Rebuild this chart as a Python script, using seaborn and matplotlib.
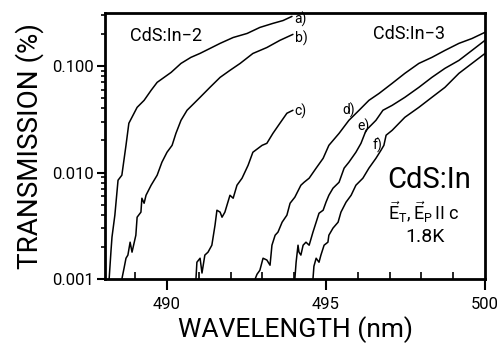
import numpy as np
import pandas as pd
import matplotlib
matplotlib.use("Agg")
import matplotlib.pyplot as plt
import matplotlib.ticker as mticker
import seaborn as sns

# curves: wavelength (nm) and transmission (%)
wl_a = [488.18, 488.24, 488.27, 488.36, 488.46, 488.58, 488.71, 488.80, 489.06, 489.28,
        489.50, 489.69, 489.91, 490.13, 490.44, 490.75, 491.04, 491.35, 491.67, 492.08,
        492.52, 492.92, 493.33, 493.65, 493.93]
tr_a = [0.0010, 0.00187, 0.00248, 0.00398, 0.00847, 0.00944, 0.0180, 0.0290, 0.0409, 0.0476,
        0.0591, 0.0702, 0.0782, 0.0871, 0.1057, 0.1204, 0.1313, 0.146, 0.163, 0.185,
        0.202, 0.230, 0.251, 0.267, 0.292]

wl_b = [488.58, 488.65, 488.71, 488.77, 488.84, 488.90, 489.02, 489.06, 489.18, 489.21,
        489.28, 489.34, 489.50, 489.69, 489.84, 490.00, 490.16, 490.28, 490.44, 490.63,
        490.85, 491.04, 491.35, 491.67, 491.98, 492.30, 492.70, 493.14, 493.55, 493.96]
tr_b = [0.0010, 0.00127, 0.00157, 0.00168, 0.00222, 0.00179, 0.00258, 0.00381, 0.00425, 0.00574,
        0.00515, 0.00612, 0.0076, 0.00944, 0.0125, 0.0155, 0.0180, 0.0233, 0.0309, 0.0384,
        0.0446, 0.0508, 0.0630, 0.0782, 0.0910, 0.1057, 0.131, 0.149, 0.174, 0.198]

wl_c = [490.91, 490.94, 491.04, 491.10, 491.19, 491.29, 491.41, 491.51, 491.57, 491.67,
        491.73, 491.82, 491.98, 492.08, 492.20, 492.36, 492.45, 492.55, 492.70, 492.99,
        493.14, 493.33, 493.55, 493.77, 493.96]
tr_c = [0.0010, 0.00144, 0.00157, 0.00114, 0.00168, 0.00179, 0.00208, 0.00321, 0.00443, 0.00425,
        0.00381, 0.00425, 0.00612, 0.00574, 0.0076, 0.00885, 0.0101, 0.0117, 0.0155, 0.0180,
        0.0188, 0.0233, 0.0290, 0.0360, 0.0384]

wl_d = [492.77, 492.83, 492.92, 493.02, 493.14, 493.24, 493.30, 493.40, 493.49, 493.62,
        493.77, 493.87, 494.02, 494.21, 494.31, 494.47, 494.69, 494.91, 495.09, 495.41,
        495.72, 496.04, 496.35, 496.67, 497.08, 497.48, 497.92, 498.33, 498.74, 499.18,
        499.59, 500.0]
tr_d = [0.0010, 0.00111, 0.00121, 0.00157, 0.00151, 0.00135, 0.00208, 0.00258, 0.00276, 0.00342,
        0.00398, 0.00515, 0.00587, 0.0076, 0.0081, 0.00885, 0.0110, 0.0136, 0.0180, 0.0233,
        0.0309, 0.0384, 0.0476, 0.0553, 0.0687, 0.0853, 0.1057, 0.1204, 0.140, 0.163,
        0.181, 0.207]

wl_e = [494.02, 494.06, 494.12, 494.15, 494.21, 494.28, 494.37, 494.47, 494.59, 494.69,
        494.78, 494.91, 495.00, 495.09, 495.22, 495.41, 495.57, 495.72, 495.94, 496.10,
        496.26, 496.57, 496.79, 497.08, 497.48, 497.92, 498.33, 498.74, 499.18, 499.59,
        500.0]
tr_e = [0.0010, 0.00144, 0.00208, 0.00179, 0.00168, 0.00208, 0.00222, 0.00208, 0.00276, 0.00342,
        0.00415, 0.00443, 0.00527, 0.00612, 0.00713, 0.0081, 0.0110, 0.0125, 0.0155, 0.0188,
        0.0249, 0.0309, 0.0384, 0.0427, 0.0508, 0.0630, 0.0782, 0.0950, 0.1128, 0.140,
        0.174]

wl_f = [494.59, 494.62, 494.69, 494.78, 494.84, 494.94, 495.06, 495.09, 495.22, 495.38,
        495.47, 495.63, 495.79, 495.94, 496.16, 496.35, 496.57, 496.73, 496.82, 496.89,
        497.08, 497.48, 497.92, 498.33, 498.74, 499.18, 499.59, 500.0]
tr_f = [0.0010, 0.00132, 0.00157, 0.00144, 0.00168, 0.00208, 0.00222, 0.00258, 0.00301, 0.00342,
        0.00425, 0.00527, 0.00612, 0.0076, 0.00885, 0.0110, 0.0136, 0.0162, 0.0180, 0.0224,
        0.0249, 0.0330, 0.0409, 0.0508, 0.0630, 0.0853, 0.1057, 0.131]

curve_names = ['a)', 'b)', 'c)', 'd)', 'e)', 'f)']
ytick_vals = [0.001, 0.01, 0.1]
ytick_labels = ['0.001', '0.010', '0.100']
xtick_vals = [490, 495, 500]

frames = []
for name, wl, tr in zip(curve_names,
                        [wl_a, wl_b, wl_c, wl_d, wl_e, wl_f],
                        [tr_a, tr_b, tr_c, tr_d, tr_e, tr_f]):
    frames.append(pd.DataFrame({'wl': wl, 'tr': tr, 'curve': name}))
df = pd.concat(frames, ignore_index=True)

sns.set_style('ticks')
plt.rcParams['font.family'] = ['Roboto', 'DejaVu Sans']
plt.rcParams['text.color'] = 'black'
plt.rcParams['axes.labelcolor'] = 'black'
plt.rcParams['xtick.color'] = 'black'
plt.rcParams['ytick.color'] = 'black'
plt.rcParams['mathtext.fontset'] = 'custom'
plt.rcParams['mathtext.rm'] = 'Roboto'
plt.rcParams['mathtext.it'] = 'Roboto'

fig = plt.figure(figsize=(5, 3.48), dpi=100)
ax = fig.add_axes([0.21, 0.198, 0.76, 0.765])

sns.lineplot(data=df, x='wl', y='tr', hue='curve', units='curve', estimator=None,
             sort=False, palette=['black'] * 6, legend=False, lw=1.1, ax=ax)

ax.set_yscale('log')
ax.set_xlim(488.05, 500)
ax.set_ylim(0.001, 0.315)

ax.set_yticks(ytick_vals)
ax.set_yticklabels(ytick_labels)
ax.yaxis.set_minor_locator(mticker.LogLocator(base=10, subs=np.arange(2, 10)))
ax.yaxis.set_minor_formatter(mticker.NullFormatter())
ax.set_xticks(xtick_vals)
ax.set_xticklabels([str(v) for v in xtick_vals])
ax.xaxis.set_minor_locator(mticker.MultipleLocator(1))

ax.tick_params(axis='y', which='major', direction='out', length=6, width=1.5, labelsize=12, pad=2)
ax.tick_params(axis='y', which='minor', direction='out', length=3, width=1.2)
ax.tick_params(axis='x', which='major', direction='out', length=8, width=1.5, labelsize=12, pad=5)
ax.tick_params(axis='x', which='minor', direction='in', length=5, width=1.2)

for sp in ax.spines.values():
    sp.set_linewidth(2)
    sp.set_color('black')

ax.set_xlabel('WAVELENGTH (nm)', fontsize=19, labelpad=3)
ax.set_ylabel('TRANSMISSION (%)', fontsize=20, labelpad=6)

# curve labels
label_pos = [(494.21, 0.274), (494.21, 0.181), (494.21, 0.0376),
             (495.72, 0.0384), (496.19, 0.0272), (496.63, 0.018)]
for name, (x, y) in zip(curve_names, label_pos):
    ax.text(x, y, name, fontsize=10, ha='center', va='center')

ax.text(0.066, 0.914, 'CdS:In\u22122', transform=ax.transAxes, fontsize=13, va='center')
ax.text(0.705, 0.92, 'CdS:In\u22123', transform=ax.transAxes, fontsize=13, va='center')
ax.text(0.742, 0.372, 'CdS:In', transform=ax.transAxes, fontsize=21, va='center')
ax.text(0.745, 0.252, r'$\vec{\mathrm{E}}_\mathrm{T},\vec{\mathrm{E}}_\mathrm{P}\,$II c',
        transform=ax.transAxes, fontsize=13, va='center')
ax.text(0.842, 0.158, '1.8K', transform=ax.transAxes, fontsize=14, va='center', ha='center')

fig.savefig('out.png', dpi=100)
